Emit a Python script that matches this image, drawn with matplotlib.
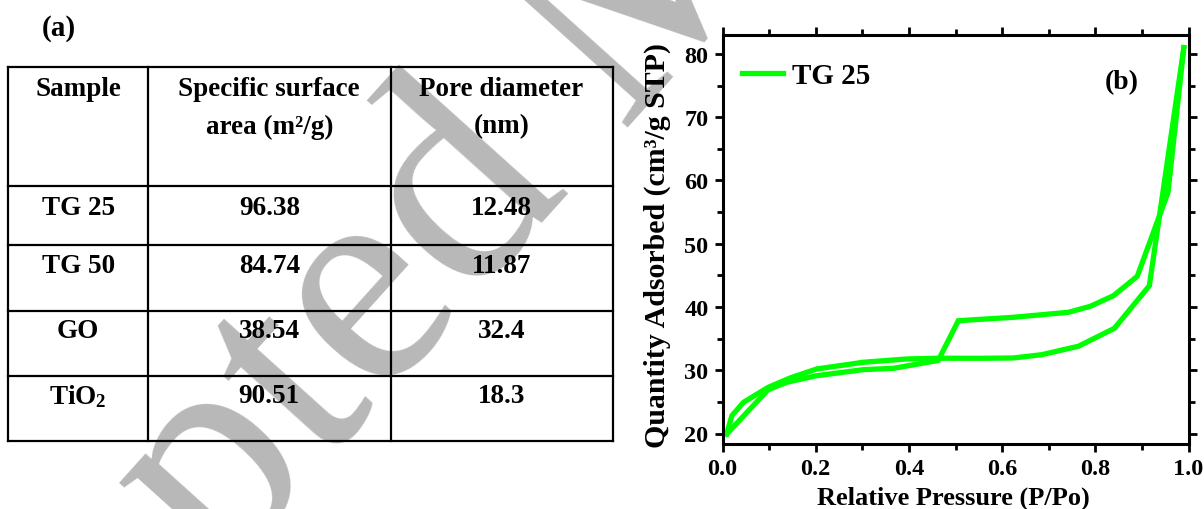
import matplotlib
matplotlib.use("Agg")
import matplotlib.pyplot as plt
from matplotlib.ticker import MultipleLocator

plt.rcParams['font.family'] = ['Liberation Serif', 'DejaVu Serif']
plt.rcParams['font.weight'] = 'bold'
plt.rcParams['mathtext.fontset'] = 'custom'
plt.rcParams['mathtext.rm'] = 'Liberation Serif:bold'
plt.rcParams['mathtext.bf'] = 'Liberation Serif:bold'
plt.rcParams['mathtext.it'] = 'Liberation Serif:bold:italic'

# ---------------- data ----------------
samples = ["TG 25", "TG 50", "GO", "TiO$_\\mathregular{2}$"]
surface_area = ["96.38", "84.74", "38.54", "90.51"]
pore_diameter = ["12.48", "11.87", "32.4", "18.3"]
header = [["Sample"], ["Specific surface", "area (m\u00b2/g)"], ["Pore diameter", "(nm)"]]

ads_p = [0.009, 0.020, 0.045, 0.098, 0.145, 0.202, 0.302, 0.395, 0.463, 0.553,
         0.624, 0.685, 0.764, 0.841, 0.916, 0.990]
ads_q = [19.92, 22.81, 24.93, 27.30, 28.78, 30.20, 31.26, 31.78, 31.90, 31.89,
         31.94, 32.46, 33.80, 36.63, 43.37, 81.00]
des_p = [0.990, 0.956, 0.890, 0.839, 0.789, 0.742, 0.624, 0.506, 0.463, 0.367,
         0.302, 0.202, 0.138, 0.098, 0.009]
des_q = [81.00, 58.10, 44.85, 41.79, 40.10, 39.16, 38.37, 37.83, 31.55, 30.31,
         30.09, 29.14, 28.10, 26.93, 19.92]

W, H = 1204, 510
fig = plt.figure(figsize=(W / 100, H / 100), dpi=100)

# ---------------- background layer (watermark + table) ----------------
ax0 = fig.add_axes([0, 0, 1, 1])
ax0.set_xlim(0, W)
ax0.set_ylim(H, 0)
ax0.axis('off')

ax0.text(-200, 1048, "Accepted Manuscript", fontsize=220, fontweight='normal',
         color='#b8b8b8', rotation=48, rotation_mode='anchor',
         ha='left', va='baseline', zorder=0)

col_x = [8.3, 148, 390.5, 612.7]
row_y = [68.3, 187, 245.7, 311.7, 376.7, 441.7]
for x in col_x:
    ax0.plot([x, x], [row_y[0], row_y[-1]], color='black', lw=1.6, zorder=2,
             solid_capstyle='projecting')
for y in row_y:
    ax0.plot([col_x[0], col_x[-1]], [y, y], color='black', lw=1.6, zorder=2,
             solid_capstyle='projecting')

fs_tab = 19.5
col_c = [(col_x[i] + col_x[i + 1]) / 2 for i in range(3)]
head_y = [90, 127]
for c, lines in zip(col_c, header):
    for k, line in enumerate(lines):
        ax0.text(c, head_y[k], line, ha='center', va='center', fontsize=fs_tab,
                 fontweight='bold', zorder=3)

text_y = [209, 267, 332, 397]
for i in range(len(samples)):
    for c, val in zip(col_c, [samples[i], surface_area[i], pore_diameter[i]]):
        ax0.text(c, text_y[i], val, ha='center', va='center', fontsize=fs_tab,
                 fontweight='bold', zorder=3)

ax0.text(59, 29, "(a)", ha='center', va='center', fontsize=21, fontweight='bold', zorder=3)

# ---------------- isotherm plot ----------------
left, right, bottom, top = 722.5, 1188.5, 445, 35.5
ax = fig.add_axes([left / W, (H - bottom) / H, (right - left) / W, (bottom - top) / H])
ax.set_zorder(5)
ax.patch.set_alpha(0)

green = '#00ff00'
ax.plot(ads_p, ads_q, color=green, lw=3.8, label='TG 25', solid_joinstyle='miter')
ax.plot(des_p, des_q, color=green, lw=3.8, solid_joinstyle='miter')

ax.set_xlim(0, 1.0)
ax.set_ylim(18.34, 83.08)
ax.xaxis.set_major_locator(MultipleLocator(0.2))
ax.xaxis.set_minor_locator(MultipleLocator(0.1))
ax.yaxis.set_major_locator(MultipleLocator(10))
ax.yaxis.set_minor_locator(MultipleLocator(5))
ax.set_xticks([0.0, 0.2, 0.4, 0.6, 0.8, 1.0])
ax.set_xticklabels(["0.0", "0.2", "0.4", "0.6", "0.8", "1.0"])
ax.set_yticks([20, 30, 40, 50, 60, 70, 80])

for s in ax.spines.values():
    s.set_linewidth(2.2)
ax.tick_params(which='both', direction='out', top=True, right=True, width=2.0,
               labelsize=17.5, pad=4)
ax.tick_params(which='major', length=6)
ax.tick_params(which='minor', length=4)
for lab in ax.get_xticklabels() + ax.get_yticklabels():
    lab.set_fontweight('bold')

ax.set_xlabel("Relative Pressure (P/Po)", fontsize=19, fontweight='bold', va='center')
ax.xaxis.set_label_coords(0.495, -0.129)
ax.set_ylabel("Quantity Adsorbed (cm\u00b3/g STP)", fontsize=21.5, fontweight='bold', va='center')
ax.yaxis.set_label_coords(-0.1405, 0.488)

leg = ax.legend(loc='upper left', bbox_to_anchor=(0.0176, 0.962), frameon=False,
                prop={'family': 'Liberation Serif', 'weight': 'bold', 'size': 21},
                handlelength=1.4, handletextpad=0.31, borderaxespad=0.0)

ax.text(0.857, 0.886, "(b)", transform=ax.transAxes, ha='center', va='center',
        fontsize=20, fontweight='bold')

fig.savefig("out.png", dpi=100)
